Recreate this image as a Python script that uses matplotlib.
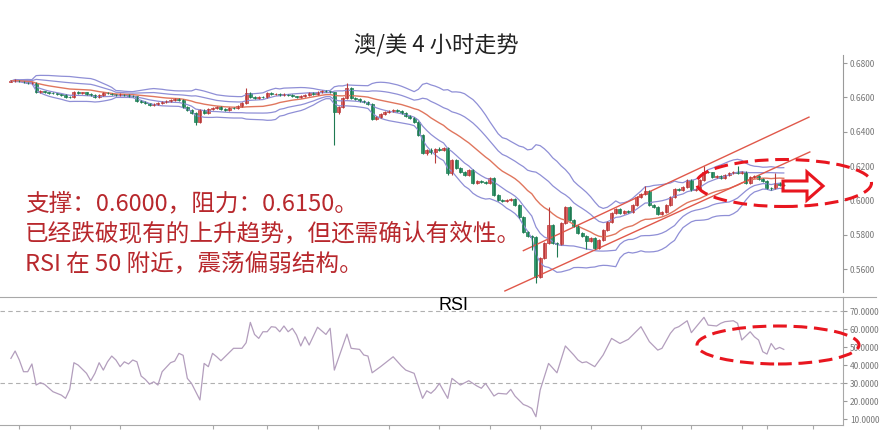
import numpy as np
import pandas as pd
import matplotlib
matplotlib.use('Agg')
import matplotlib.pyplot as plt
from matplotlib.patches import Ellipse, Polygon
from matplotlib.lines import Line2D
from matplotlib.ticker import FormatStrFormatter

plt.rcParams['font.family'] = ['Noto Sans CJK SC', 'DejaVu Sans']

W, H = 889, 440

#AUD/USD 4h candles, open of each bar = previous close
first_open = 0.6692
closes = [0.6695, 0.6701, 0.6695, 0.6689, 0.6684, 0.6686, 0.6631, 0.6637, 0.6631, 0.6625,
          0.6623, 0.6619, 0.6614, 0.6602, 0.6600, 0.6631, 0.6625, 0.6629, 0.6619, 0.6614,
          0.6602, 0.6614, 0.6625, 0.6623, 0.6619, 0.6614, 0.6619, 0.6614, 0.6608, 0.6606,
          0.6579, 0.6573, 0.6567, 0.6555, 0.6561, 0.6567, 0.6573, 0.6579, 0.6584, 0.6590,
          0.6584, 0.6544, 0.6526, 0.6509, 0.6456, 0.6526, 0.6509, 0.6532, 0.6538, 0.6544,
          0.6532, 0.6526, 0.6538, 0.6536, 0.6550, 0.6567, 0.6625, 0.6602, 0.6596, 0.6602,
          0.6600, 0.6625, 0.6619, 0.6621, 0.6614, 0.6619, 0.6614, 0.6608, 0.6602, 0.6608,
          0.6614, 0.6625, 0.6619, 0.6631, 0.6637, 0.6635, 0.6631, 0.6515, 0.6544, 0.6596,
          0.6654, 0.6596, 0.6590, 0.6579, 0.6573, 0.6561, 0.6474, 0.6485, 0.6503, 0.6515,
          0.6520, 0.6526, 0.6520, 0.6509, 0.6491, 0.6480, 0.6456, 0.6381, 0.6276, 0.6293,
          0.6282, 0.6299, 0.6293, 0.6305, 0.6159, 0.6235, 0.6188, 0.6165, 0.6148, 0.6177,
          0.6101, 0.6113, 0.6107, 0.6101, 0.6130, 0.6031, 0.6002, 0.5996, 0.6002, 0.6008,
          0.5973, 0.5903, 0.5816, 0.5792, 0.5786, 0.5553, 0.5664, 0.5752, 0.5856, 0.5752,
          0.5746, 0.5868, 0.5961, 0.5885, 0.5851, 0.5810, 0.5792, 0.5763, 0.5781, 0.5722,
          0.5769, 0.5827, 0.5874, 0.5926, 0.5950, 0.5926, 0.5938, 0.5932, 0.5973, 0.6019,
          0.6037, 0.6054, 0.5973, 0.5961, 0.5920, 0.5932, 0.5973, 0.6019, 0.6066, 0.6060,
          0.6078, 0.6118, 0.6060, 0.6066, 0.6118, 0.6165, 0.6163, 0.6136, 0.6142, 0.6130,
          0.6148, 0.6159, 0.6165, 0.6159, 0.6165, 0.6101, 0.6136, 0.6142, 0.6124, 0.6113,
          0.6072, 0.6070, 0.6101, 0.6089, 0.6091]
highs = [0.6700, 0.6706, 0.6704, 0.6698, 0.6692, 0.6691, 0.6689, 0.6642, 0.6640, 0.6634,
         0.6630, 0.6627, 0.6622, 0.6617, 0.6606, 0.6636, 0.6638, 0.6634, 0.6632, 0.6623,
         0.6617, 0.6618, 0.6629, 0.6630, 0.6627, 0.6622, 0.6624, 0.6622, 0.6617, 0.6612,
         0.6609, 0.6583, 0.6577, 0.6570, 0.6565, 0.6571, 0.6577, 0.6583, 0.6589, 0.6595,
         0.6594, 0.6588, 0.6547, 0.6530, 0.6512, 0.6532, 0.6530, 0.6537, 0.6543, 0.6549,
         0.6548, 0.6536, 0.6542, 0.6542, 0.6555, 0.6572, 0.6654, 0.6629, 0.6606, 0.6607,
         0.6606, 0.6630, 0.6629, 0.6626, 0.6625, 0.6624, 0.6622, 0.6617, 0.6611, 0.6613,
         0.6618, 0.6630, 0.6629, 0.6636, 0.6642, 0.6641, 0.6640, 0.6634, 0.6549, 0.6600,
         0.6684, 0.6658, 0.6600, 0.6594, 0.6583, 0.6577, 0.6565, 0.6490, 0.6508, 0.6520,
         0.6525, 0.6531, 0.6530, 0.6524, 0.6513, 0.6495, 0.6484, 0.6460, 0.6385, 0.6299,
         0.6305, 0.6305, 0.6310, 0.6311, 0.6310, 0.6240, 0.6240, 0.6192, 0.6170, 0.6183,
         0.6181, 0.6118, 0.6118, 0.6112, 0.6136, 0.6135, 0.6036, 0.6007, 0.6008, 0.6013,
         0.6012, 0.5977, 0.5907, 0.5820, 0.5797, 0.5790, 0.5670, 0.5757, 0.5961, 0.5862,
         0.5757, 0.5874, 0.5967, 0.5966, 0.5890, 0.5855, 0.5815, 0.5797, 0.5787, 0.5786,
         0.5775, 0.5833, 0.5880, 0.5932, 0.5956, 0.5956, 0.5944, 0.5944, 0.5979, 0.6025,
         0.6043, 0.6083, 0.6060, 0.5979, 0.5966, 0.5938, 0.5979, 0.6025, 0.6072, 0.6072,
         0.6084, 0.6124, 0.6124, 0.6072, 0.6124, 0.6200, 0.6171, 0.6168, 0.6148, 0.6148,
         0.6154, 0.6165, 0.6171, 0.6200, 0.6171, 0.6171, 0.6142, 0.6148, 0.6148, 0.6130,
         0.6118, 0.6078, 0.6159, 0.6107, 0.6097]
lows = [0.6688, 0.6691, 0.6690, 0.6684, 0.6679, 0.6680, 0.6626, 0.6627, 0.6627, 0.6620,
        0.6618, 0.6615, 0.6610, 0.6598, 0.6595, 0.6597, 0.6621, 0.6620, 0.6615, 0.6609,
        0.6598, 0.6599, 0.6611, 0.6618, 0.6614, 0.6610, 0.6610, 0.6610, 0.6604, 0.6601,
        0.6575, 0.6569, 0.6563, 0.6551, 0.6551, 0.6557, 0.6563, 0.6569, 0.6575, 0.6580,
        0.6580, 0.6540, 0.6522, 0.6504, 0.6439, 0.6452, 0.6504, 0.6505, 0.6528, 0.6534,
        0.6528, 0.6521, 0.6522, 0.6531, 0.6532, 0.6546, 0.6563, 0.6598, 0.6591, 0.6592,
        0.6595, 0.6596, 0.6615, 0.6615, 0.6610, 0.6610, 0.6610, 0.6604, 0.6597, 0.6598,
        0.6604, 0.6610, 0.6615, 0.6615, 0.6627, 0.6630, 0.6627, 0.6322, 0.6505, 0.6540,
        0.6592, 0.6590, 0.6584, 0.6574, 0.6568, 0.6556, 0.6468, 0.6470, 0.6481, 0.6499,
        0.6511, 0.6516, 0.6515, 0.6504, 0.6486, 0.6475, 0.6451, 0.6375, 0.6270, 0.6265,
        0.6270, 0.6218, 0.6287, 0.6288, 0.6150, 0.6150, 0.6182, 0.6158, 0.6142, 0.6143,
        0.6095, 0.6096, 0.6100, 0.6096, 0.6096, 0.6025, 0.5996, 0.5990, 0.5991, 0.5997,
        0.5967, 0.5897, 0.5810, 0.5786, 0.5711, 0.5519, 0.5548, 0.5658, 0.5747, 0.5746,
        0.5670, 0.5740, 0.5862, 0.5880, 0.5845, 0.5804, 0.5786, 0.5716, 0.5757, 0.5716,
        0.5716, 0.5763, 0.5821, 0.5868, 0.5920, 0.5920, 0.5920, 0.5926, 0.5926, 0.5967,
        0.6013, 0.6031, 0.5967, 0.5955, 0.5914, 0.5914, 0.5926, 0.5967, 0.6013, 0.6054,
        0.6054, 0.6072, 0.6054, 0.6054, 0.6060, 0.6112, 0.6157, 0.6130, 0.6130, 0.6124,
        0.6124, 0.6142, 0.6153, 0.6153, 0.6153, 0.6095, 0.6095, 0.6130, 0.6118, 0.6107,
        0.6066, 0.6062, 0.6064, 0.6083, 0.6083]

#RSI line (bar index, value)
rsi_idx = [0, 1, 2, 3, 4, 5, 6, 7, 8, 10,
           12, 13, 14, 15, 16, 18, 19, 20, 21, 22,
           23, 24, 25, 26, 27, 28, 29, 30, 31, 32,
           33, 34, 35, 36, 38, 39, 40, 41, 42, 43,
           44, 45, 46, 47, 48, 49, 50, 53, 55, 56,
           57, 58, 59, 60, 61, 62, 63, 64, 65, 66,
           67, 68, 69, 70, 71, 73, 75, 76, 77, 80,
           81, 83, 84, 85, 86, 88, 90, 91, 93, 94,
           96, 98, 99, 100, 101, 102, 104, 105, 107, 109,
           111, 112, 113, 115, 116, 118, 119, 120, 122, 123,
           124, 125, 126, 128, 130, 132, 134, 135, 136, 137,
           139, 141, 143, 145, 147, 150, 152, 154, 155, 157,
           158, 159, 161, 162, 165, 166, 168, 169, 170, 172,
           173, 174, 176, 177, 178, 179, 180, 181, 182, 183,
           184]
rsi_val = [43.7, 47.8, 42.8, 36.3, 36.3, 40.6, 28.9, 30.2, 29.3, 25.2,
           23.3, 21.5, 26.5, 41.3, 40.0, 35.4, 31.3, 35.4, 41.3, 37.2,
           41.8, 45.0, 42.8, 39.1, 41.8, 40.6, 42.8, 41.8, 33.9, 32.0,
           29.4, 30.7, 28.9, 36.3, 41.3, 42.2, 46.5, 45.4, 32.6, 29.8,
           25.2, 20.6, 40.9, 39.1, 46.5, 44.6, 42.4, 49.3, 49.3, 52.4,
           63.7, 57.0, 54.8, 58.5, 58.5, 61.3, 61.0, 58.5, 61.7, 58.5,
           60.4, 56.7, 50.6, 55.7, 51.1, 61.0, 57.0, 60.4, 37.2, 57.2,
           49.3, 48.7, 45.6, 45.0, 35.7, 39.1, 42.8, 44.6, 39.4, 37.2,
           35.4, 21.5, 25.7, 24.3, 26.5, 29.8, 21.5, 32.6, 28.9, 31.3,
           28.3, 27.1, 29.8, 22.8, 24.3, 23.9, 26.5, 22.8, 18.1, 17.2,
           15.9, 11.3, 26.1, 40.9, 35.7, 50.6, 45.6, 42.8, 41.3, 41.8,
           39.1, 45.6, 54.8, 52.0, 54.3, 61.3, 53.0, 48.3, 49.3, 57.6,
           60.4, 61.3, 64.6, 58.0, 66.5, 62.2, 61.7, 63.2, 64.1, 64.6,
           63.2, 53.9, 58.5, 55.7, 53.9, 47.4, 46.1, 52.0, 48.7, 49.8,
           48.7]

#trend channel drawn on the chart (bar index, price)
chan_upper_x = [122, 190]
chan_upper_y = [0.5707, 0.6485]
chan_lower_x = [117.6, 190.2]
chan_lower_y = [0.5472, 0.6282]

date_ticks = [2, 14, 26, 48, 61, 73, 90, 102, 114, 126, 138, 150, 162, 174, 180, 191]
price_ticks = [0.56, 0.58, 0.60, 0.62, 0.64, 0.66, 0.68]
rsi_ticks = [10, 20, 30, 40, 50, 60, 70]

title = '澳/美 4 小时走势'
notes = ['支撑：0.6000，阻力：0.6150。',
         '已经跌破现有的上升趋势，但还需确认有效性。',
         'RSI 在 50 附近，震荡偏弱结构。']


#pixel -> figure fraction helpers
def fx(x):
	return x / W

def fy(y):
	return 1 - y / H


closes = np.array(closes)
highs = np.array(highs)
lows = np.array(lows)
opens = np.concatenate([[first_open], closes[:-1]])
idx = np.arange(len(closes))

s = pd.Series(closes)
mid = s.rolling(20, min_periods=1).mean()
sd = s.rolling(20, min_periods=1).std(ddof=0)

fig = plt.figure(figsize=(W / 100, H / 100), dpi=100)
fig.patch.set_facecolor('white')

xlim = (-2.6, 198.1)

#price panel
ax = fig.add_axes([0, fy(292), fx(843), (292 - 55) / H])
ax.set_xlim(*xlim)
ax.set_ylim(0.5466, 0.6847)

band_col = '#8f8fd6'
ax.plot(idx, mid + 2 * sd, color=band_col, lw=0.9)
ax.plot(idx, mid + sd, color=band_col, lw=0.9)
ax.plot(idx, mid - sd, color=band_col, lw=0.9)
ax.plot(idx, mid - 2 * sd, color=band_col, lw=0.9)
ax.plot(idx, mid, color='#e0765e', lw=1.0)

ax.plot(chan_upper_x, chan_upper_y, color='#e0584a', lw=1.0)
ax.plot(chan_lower_x, chan_lower_y, color='#e0584a', lw=1.0)

up = closes >= opens
face = np.where(up, '#e46464', '#2f9f70')
edge = np.where(up, '#b83a3a', '#1f7a52')
ax.vlines(idx, lows, highs, colors=edge, lw=0.8)
body_bot = np.minimum(opens, closes)
body_h = np.maximum(np.abs(closes - opens), 0.0003)
ax.bar(idx, body_h, bottom=body_bot, width=0.72, color=face, edgecolor=edge, linewidth=0.5)

for sp in ['top', 'left', 'bottom']:
	ax.spines[sp].set_visible(False)
ax.spines['right'].set_color('#9a9a9a')
ax.yaxis.tick_right()
ax.set_yticks(price_ticks)
ax.yaxis.set_major_formatter(FormatStrFormatter('%.4f'))
ax.tick_params(axis='y', direction='out', length=3, labelsize=6, colors='#9a9a9a', labelcolor='#777777', pad=2)
ax.set_xticks([])

#RSI panel
ax2 = fig.add_axes([0, fy(425), fx(843), (425 - 297) / H])
ax2.set_xlim(*xlim)
ax2.set_ylim(6.7, 77.8)
ax2.axhline(70, color='#b0b0b0', lw=0.8, ls=(0, (4, 3)))
ax2.axhline(30, color='#b0b0b0', lw=0.8, ls=(0, (4, 3)))
ax2.plot(rsi_idx, rsi_val, color='#b39ebd', lw=0.9)
ax2.spines['left'].set_visible(False)
for sp in ['top', 'right', 'bottom']:
	ax2.spines[sp].set_color('#a8a8a8')
ax2.yaxis.tick_right()
ax2.set_yticks(rsi_ticks)
ax2.yaxis.set_major_formatter(FormatStrFormatter('%.4f'))
ax2.tick_params(axis='y', direction='out', length=3, labelsize=6, colors='#9a9a9a', labelcolor='#777777', pad=2)
ax2.set_xticks(date_ticks)
ax2.set_xticklabels([])
ax2.tick_params(axis='x', direction='out', length=3, colors='#a8a8a8')

fig.add_artist(Line2D([fx(843), fx(876)], [fy(297), fy(297)], transform=fig.transFigure, color='#a8a8a8', lw=0.8))

#texts
fig.text(fx(436), fy(46), title, ha='center', va='center', fontsize=16, color='#222222')
fig.text(fx(453), fy(306), 'RSI', ha='center', va='center', fontsize=13, color='black',
         family=['Liberation Sans', 'DejaVu Sans'])
for k, line in enumerate(notes):
	fig.text(fx(25), fy(204 + 30 * k), line, ha='left', va='center', fontsize=17, color='#b8282d')

#red dashed highlights and arrow
red = '#e8161f'
fig.add_artist(Ellipse((fx(784), fy(183)), 175 / W, 47 / H, transform=fig.transFigure,
                       fill=False, edgecolor=red, lw=2.2, ls=(0, (4.5, 2.2))))
fig.add_artist(Ellipse((fx(778), fy(345)), 162 / W, 38 / H, transform=fig.transFigure,
                       fill=False, edgecolor=red, lw=2.2, ls=(0, (4.5, 2.2))))
arrow_px = [(783, 181), (807, 181), (807, 172), (823, 186), (807, 200), (807, 191), (783, 191)]
fig.add_artist(Polygon([(fx(x), fy(y)) for x, y in arrow_px], closed=True, transform=fig.transFigure,
                       facecolor='none', edgecolor=red, lw=2.2))

fig.savefig('out.png', dpi=100)
